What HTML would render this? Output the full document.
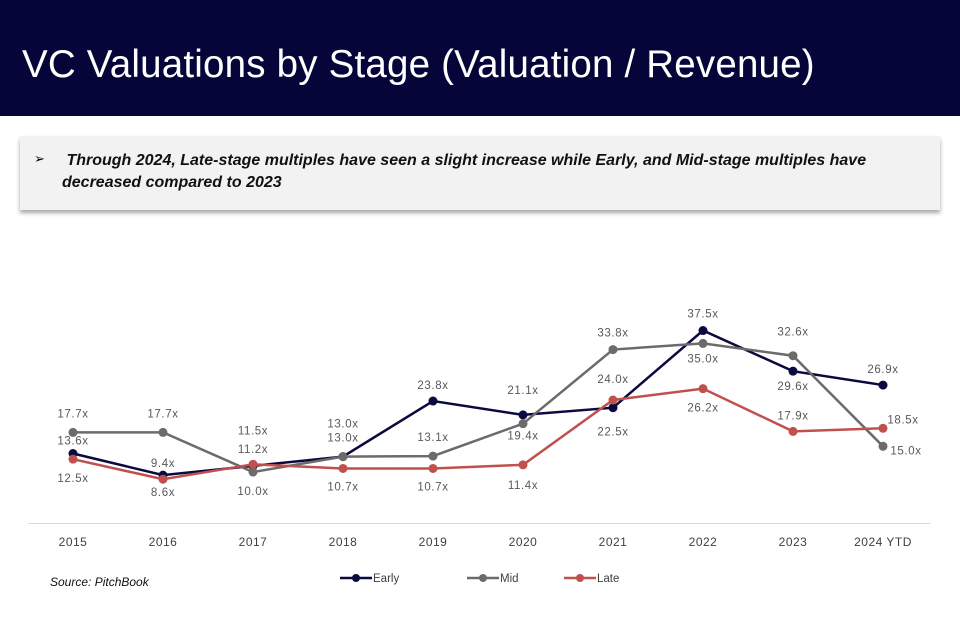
<!DOCTYPE html>
<html><head><meta charset="utf-8"><style>
body{margin:0;width:960px;height:623px;background:#fff;font-family:"Liberation Sans",sans-serif;overflow:hidden;position:relative}
#band{position:absolute;left:0;top:0;width:960px;height:116px;background:#05053a}
#title{position:absolute;left:22px;top:43px;color:#fff;font-size:38.5px;white-space:nowrap;letter-spacing:0.2px}
#callout{position:absolute;left:20px;top:136px;width:920px;height:74px;background:#f2f2f2;box-shadow:0 3px 4px rgba(0,0,0,.35)}
#callout p{margin:0;position:absolute;left:42px;top:14px;width:850px;font-size:16px;font-weight:bold;font-style:italic;line-height:22px;color:#111}
#arrow{position:absolute;left:14px;top:15px;font-size:13px}
svg{position:absolute;left:0;top:0}
</style></head><body>
<div id="band"></div>
<div id="title">VC Valuations by Stage (Valuation / Revenue)</div>
<div id="callout"><span id="arrow">➢</span><p>&nbsp;Through 2024, Late-stage multiples have seen a slight increase while Early, and Mid-stage multiples have decreased compared to 2023</p></div>
<svg id="chart" width="960" height="623"></svg>
<script>
const categories=["2015","2016","2017","2018","2019","2020","2021","2022","2023","2024 YTD"];
const earlyValues=[13.6,9.4,11.2,13.0,23.8,21.1,22.5,37.5,29.6,26.9];
const midValues=[17.7,17.7,10.0,13.0,13.1,19.4,33.8,35.0,32.6,15.0];
const lateValues=[12.5,8.6,11.5,10.7,10.7,11.4,24.0,26.2,17.9,18.5];
const earlyLabelDy=[-13,-12,-17,-19,-16,-25,24,-17,15,-16];
const midLabelDy=[-19,-19,19,-33,-19,12,-17,15,-24,4];
const midLabelDx=[0,0,0,0,0,0,0,0,0,23];
const lateLabelDy=[19,13,-34,18,18,20,-21,19,-16,-9];
const lateLabelDx=[0,0,0,0,0,0,0,0,0,20];
const NS="http://www.w3.org/2000/svg";
const svg=document.getElementById('chart');
const x=i=>73+i*90.0;
const y=v=>523.5-v*5.146;
function mk(t,a){const e=document.createElementNS(NS,t);for(const k in a)e.setAttribute(k,a[k]);svg.appendChild(e);return e;}
const ax=mk('line',{x1:28,x2:930,y1:523.5,y2:523.5,stroke:'#d9d9d9','stroke-width':1});


categories.forEach((c,i)=>{const t=mk('text',{x:x(i),y:546,'text-anchor':'middle','font-size':12,fill:'#404040','letter-spacing':'0.5'});t.textContent=c;

});
const series=[["early",earlyValues,"#0a0a40",earlyLabelDy,null],["mid",midValues,"#6b6b6b",midLabelDy,midLabelDx],["late",lateValues,"#c0504d",lateLabelDy,lateLabelDx]];
series.forEach(([n,vals,col,dy,dx])=>{
 const pl=mk('polyline',{points:vals.map((v,i)=>x(i)+','+y(v)).join(' '),fill:'none',stroke:col,'stroke-width':2.5});
 
 
 vals.forEach((v,i)=>{const c=mk('circle',{cx:x(i),cy:y(v),r:4.5,fill:col});
  
  
  const t=mk('text',{x:x(i)+(dx?dx[i]:0),y:y(v)+dy[i]+4,'text-anchor':'middle','font-size':11.5,fill:'#595959','letter-spacing':'0.6'});
  t.textContent=v.toFixed(1)+'x';
  
  });
});
const legend=[["Early","#0a0a40",340],["Mid","#6b6b6b",467],["Late","#c0504d",564]];
legend.forEach(([n,col,lx])=>{
 const l=mk('line',{x1:lx,x2:lx+32,y1:578,y2:578,stroke:col,'stroke-width':2.5});
 
 
 const c=mk('circle',{cx:lx+16,cy:578,r:4,fill:col});
 
 
 const t=mk('text',{x:lx+33,y:582,'font-size':11.5,fill:'#404040'});t.textContent=n;
 
 
});
const s=mk('text',{x:50,y:586,'font-size':12,'font-style':'italic',fill:'#111'});s.textContent='Source: PitchBook';


</script>
</body></html>
